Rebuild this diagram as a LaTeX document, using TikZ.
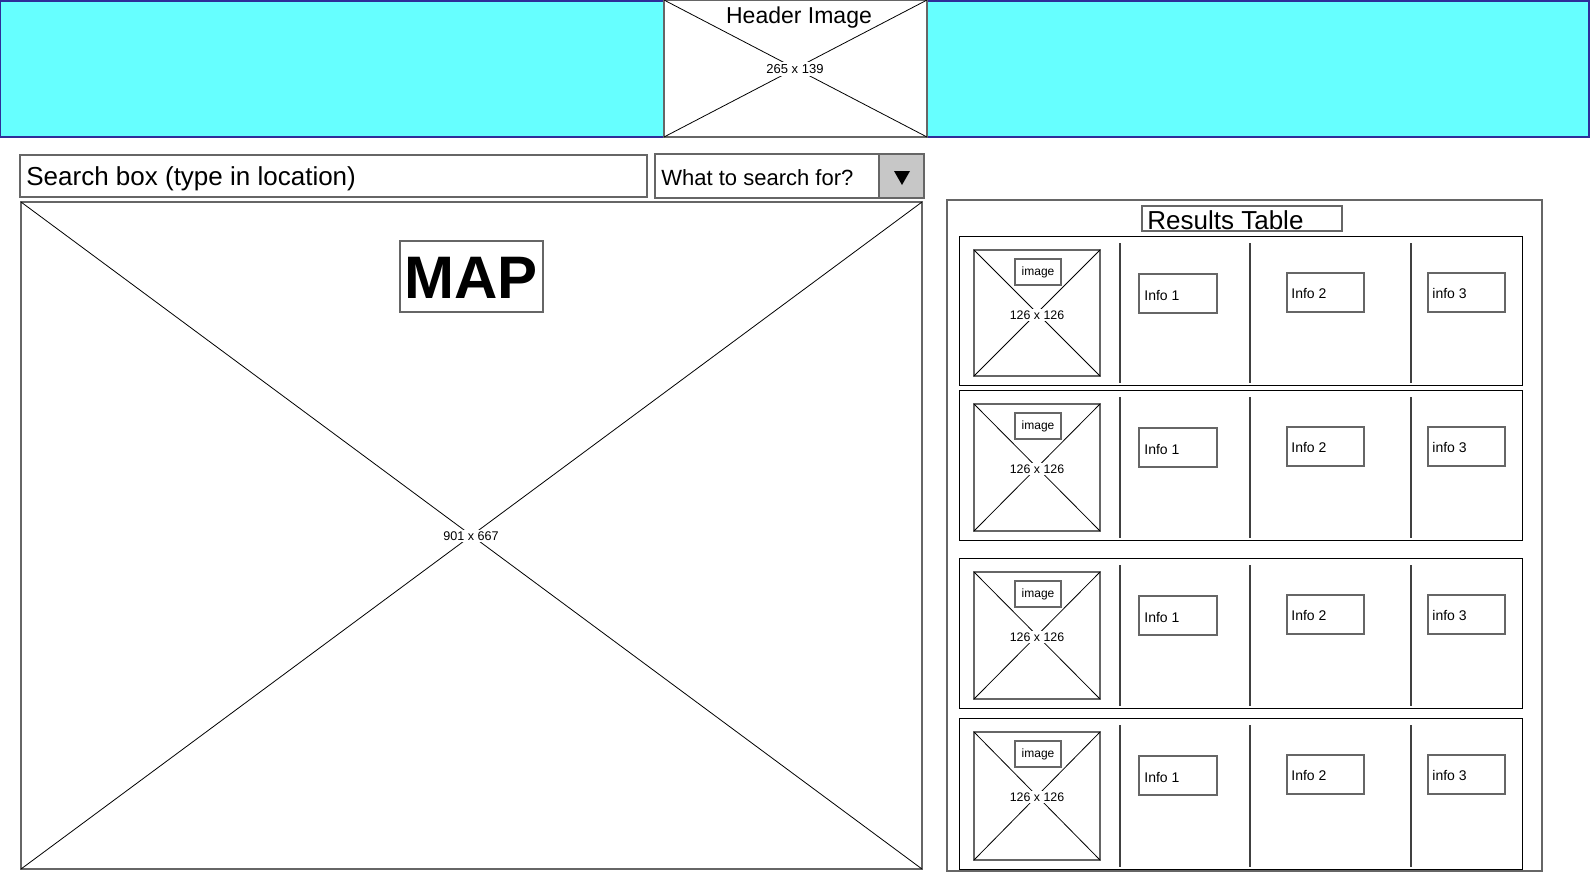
\documentclass[tikz,border=0pt]{standalone}
\usepackage{fontspec}
\setmainfont{Liberation Sans}
\usepackage{tikz}
\usetikzlibrary{calc}
\definecolor{bandcyan}{HTML}{66FFFF}
\definecolor{bandblue}{HTML}{2E2E9A}
\tikzset{
	frame/.style={draw=black!60, line width=0.8pt},
	thinline/.style={draw=black, line width=0.4pt},
	tag/.style={inner sep=1pt, fill=white}
}

\begin{document}
\begin{tikzpicture}[x=0.5pt, y=-0.5pt]
		\useasboundingbox (0,0) rectangle (1590,875);
		
		\def\placeholder(#1,#2)(#3,#4)% Syntax: (left,top)(right,bottom)
		{ \draw[frame, fill=white] (#1,#2) rectangle (#3,#4);
		  \draw[thinline] (#1,#2) -- (#3,#4) (#1,#4) -- (#3,#2); }
		
		% header band
		\draw[draw=bandblue, fill=bandcyan, line width=0.8pt] (0,1) rectangle (1589,137);
		\placeholder(664,0)(927,137);
		\node[inner sep=1pt, font=\fontsize{11.5}{13}\selectfont] (headtitle) at (799,18) {Header Image};
		\node[tag, font=\fontsize{6.5}{8}\selectfont] (headsize) at (795,69) {265 x 139};
		
		% search line
		\draw[frame] (20,155) rectangle (647,197);
		\node[anchor=west, inner sep=0, font=\fontsize{13}{15}\selectfont] (search) at (26,179) {Search box (type in location)};
		\draw[frame] (655,154) rectangle (924,198);
		\draw[frame, fill=black!22] (879,154) rectangle (924,198);
		\node[anchor=west, inner sep=0, font=\fontsize{11}{13}\selectfont] (what) at (661,178) {What to search for?};
		\fill (894,171) -- (910,171) -- (902,185) -- cycle;
		
		% map
		\placeholder(21,202)(922,869);
		\node[tag, font=\fontsize{6.3}{8}\selectfont] (mapsize) at (471,536) {901 x 667};
		\draw[frame, fill=white] (400,241) rectangle (543,312);
		\node[font=\fontsize{30}{32}\selectfont\bfseries] (maptitle) at (471,278) {MAP};
		
		% results
		\draw[frame] (947,200) rectangle (1542,871);
		\draw[frame] (1142,206) rectangle (1342,231);
		\node[anchor=west, inner sep=0, font=\fontsize{13}{15}\selectfont] (results) at (1147,220) {Results Table};
		
		\foreach \t/\b [count=\i] in {236/385, 390/540, 558/708, 718/869}
		{
			\draw[thinline] (959,\t) rectangle (1522,\b);
			\placeholder(974,\t+14)(1100,\b-9);
			\node[tag, font=\fontsize{6.2}{8}\selectfont] (size\i) at (1037,\t+79) {126 x 126};
			\draw[frame, fill=white] (1015,\t+23) rectangle (1061,\t+49);
			\node[font=\fontsize{6}{7}\selectfont] (img\i) at (1038,\t+36) {image};
			\foreach \x in {1120, 1250, 1411}
				\draw[frame, draw=black!75] (\x,\t+7) -- (\x,\b-2);
			\draw[frame] (1139,\t+38) rectangle (1217,\t+77);
			\node[anchor=west, inner sep=0, font=\fontsize{7}{8}\selectfont] (infoa\i) at (1144,\t+59) {Info 1};
			\draw[frame] (1287,\t+37) rectangle (1364,\t+76);
			\node[anchor=west, inner sep=0, font=\fontsize{7}{8}\selectfont] (infob\i) at (1291,\t+57) {Info 2};
			\draw[frame] (1428,\t+37) rectangle (1505,\t+76);
			\node[anchor=west, inner sep=0, font=\fontsize{7}{8}\selectfont] (infoc\i) at (1432,\t+57) {info 3};
		}
\end{tikzpicture}
\end{document}
